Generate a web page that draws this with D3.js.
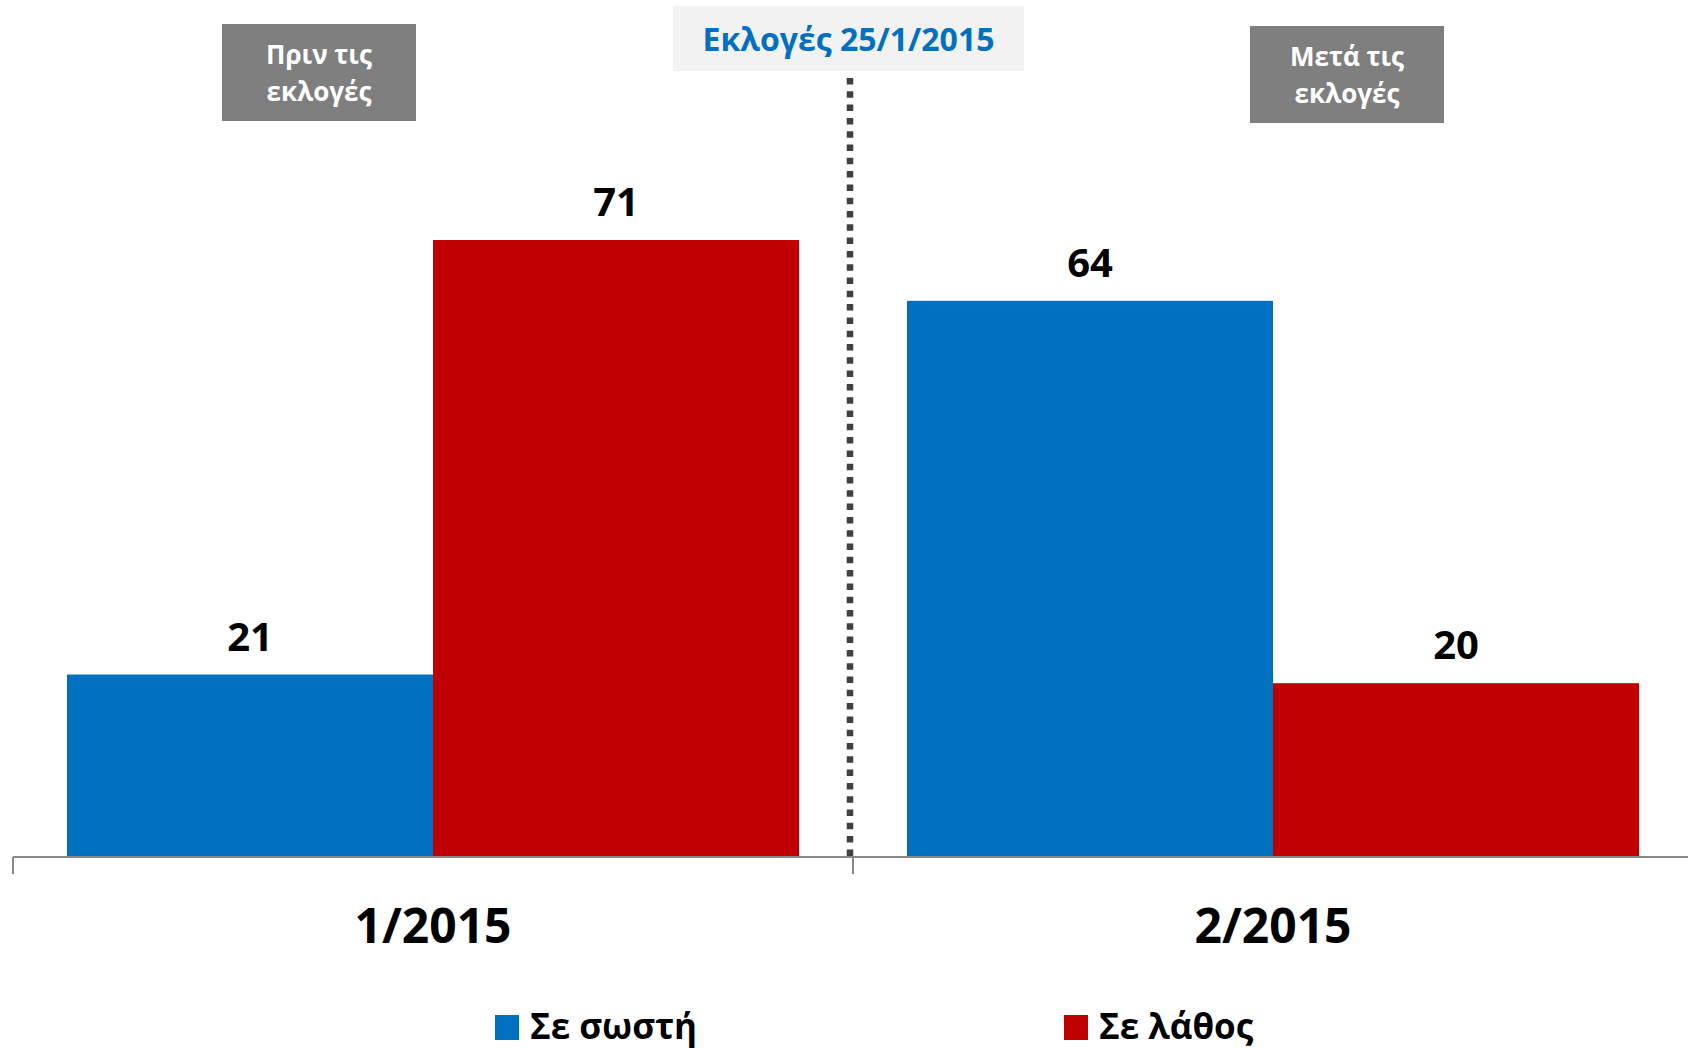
<!DOCTYPE html>
<html><head><meta charset="utf-8">
<script src="https://cdn.jsdelivr.net/npm/d3@7"></script>
<style>body{margin:0;background:#fff}svg{display:block}text{font-family:"Open Sans","Noto Sans",sans-serif;font-weight:bold}</style>
</head><body>
<svg id="c" width="1688" height="1048"></svg>
<script>
const categories = ["1/2015", "2/2015"];
const seriesNames = ["Σε σωστή", "Σε λάθος"];
const seriesColors = ["#0070c0", "#c00000"];
const valuesSosti = [21, 64];
const valuesLathos = [71, 20];
const headerLabels = [["Πριν τις", "εκλογές"], ["Μετά τις", "εκλογές"]];
const eventLabel = "Εκλογές 25/1/2015";

const svg = d3.select("#c");
const baseY = 857;

const x = d3.scaleBand().domain(categories).range([13, 1693]).padding(0);
const inner = 54;
const xSub = d3.scaleBand().domain(seriesNames).range([inner, x.bandwidth() - inner]);
const y = d3.scaleLinear().domain([0, 80]).range([baseY, baseY - 80 * 8.69]);

const data = categories.map((c, i) => ({cat: c, vals: [valuesSosti[i], valuesLathos[i]]}));

const g = svg.append("g");
data.forEach(d => {
  d.vals.forEach((v, j) => {
    g.append("rect")
      .attr("x", x(d.cat) + xSub(seriesNames[j]))
      .attr("y", y(v))
      .attr("width", xSub.bandwidth())
      .attr("height", baseY - y(v))
      .attr("fill", seriesColors[j]);
    g.append("text")
      .attr("x", x(d.cat) + xSub(seriesNames[j]) + xSub.bandwidth() / 2)
      .attr("y", y(v) - 24)
      .attr("text-anchor", "middle")
      .attr("font-size", 40)
      .attr("fill", "#000")
      .text(v);
  });
});

// axis
const axisG = svg.append("g").attr("transform", `translate(0,${baseY})`);
axisG.append("line").attr("x1", 13).attr("x2", 1693).attr("y1", 0).attr("y2", 0)
  .attr("stroke", "#888").attr("stroke-width", 2);
const tickPos = categories.map(c => x(c)).concat([x(categories[categories.length - 1]) + x.bandwidth()]);
tickPos.forEach(t => axisG.append("line").attr("x1", t).attr("x2", t).attr("y1", 0).attr("y2", 17)
  .attr("stroke", "#888").attr("stroke-width", 2));
categories.forEach(c => axisG.append("text")
  .attr("x", x(c) + x.bandwidth() / 2).attr("y", 86)
  .attr("text-anchor", "middle").attr("font-size", 48).attr("fill", "#000").text(c));

// dotted divider
const divX = x(categories[1]) - 3;
svg.append("line").attr("x1", divX).attr("x2", divX).attr("y1", 78).attr("y2", baseY)
  .attr("stroke", "#404040").attr("stroke-width", 6.5).attr("stroke-dasharray", "6.5,6.8");

// event label
svg.append("rect").attr("x", 673).attr("y", 6).attr("width", 351).attr("height", 65).attr("fill", "#f2f2f2");
svg.append("text").attr("x", 848.5).attr("y", 51).attr("text-anchor", "middle")
  .attr("font-size", 32).attr("fill", "#0070c0").text(eventLabel);

// header boxes
const headerBoxes = [{x: 222, y: 24}, {x: 1250, y: 26}];
headerLabels.forEach((lines, i) => {
  const b = headerBoxes[i];
  svg.append("rect").attr("x", b.x).attr("y", b.y).attr("width", 194).attr("height", 97).attr("fill", "#7f7f7f");
  lines.forEach((l, k) => svg.append("text")
    .attr("x", b.x + 97).attr("y", b.y + 40 + k * 37)
    .attr("text-anchor", "middle").attr("font-size", 26).attr("fill", "#fff").text(l));
});

// legend
const legendX = [495, 1064];
seriesNames.forEach((s, j) => {
  svg.append("rect").attr("x", legendX[j]).attr("y", 1015).attr("width", 24).attr("height", 25).attr("fill", seriesColors[j]);
  svg.append("text").attr("x", legendX[j] + 35).attr("y", 1039)
    .attr("font-size", 35).attr("fill", "#000").text(s);
});
</script>
</body></html>
